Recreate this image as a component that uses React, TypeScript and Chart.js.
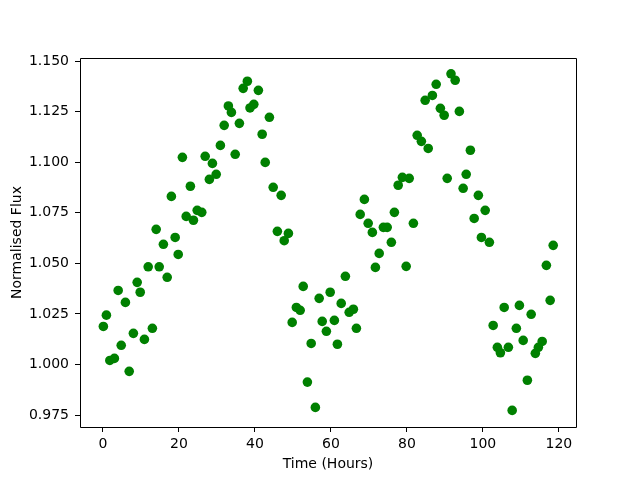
import React, { useEffect, useRef } from "react";
import { Chart, registerables } from "chart.js";

Chart.register(...registerables);

const hours = [
  0.1, 0.9, 1.8, 3.0, 4.0, 4.8, 5.9, 6.9, 8.0, 9.0,
  9.8, 10.9, 11.9, 13.0, 14.0, 14.8, 15.9, 16.9, 18.0, 19.0,
  19.8, 20.9, 21.9, 23.0, 23.8, 24.8, 26.0, 26.9, 28.0, 28.8,
  29.8, 30.9, 31.9, 33.0, 33.8, 34.8, 35.9, 36.9, 38.0, 38.7,
  39.7, 40.9, 41.9, 42.7, 43.8, 44.8, 45.9, 46.9, 47.7, 48.8,
  49.8, 50.9, 51.9, 52.7, 53.8, 54.8, 55.9, 56.9, 57.7, 58.8,
  59.8, 60.9, 61.7, 62.7, 63.8, 64.8, 65.9, 66.7, 67.7, 68.8,
  69.8, 70.9, 71.7, 72.7, 73.8, 74.8, 75.9, 76.7, 77.7, 78.8,
  79.8, 80.6, 81.7, 82.7, 83.8, 84.8, 85.6, 86.7, 87.7, 88.8,
  89.8, 90.6, 91.6, 92.7, 93.8, 94.8, 95.6, 96.7, 97.7, 98.8,
  99.6, 100.6, 101.7, 102.7, 103.8, 104.6, 105.6, 106.7, 107.7, 108.8,
  109.6, 110.6, 111.7, 112.7, 113.8, 114.6, 115.6, 116.7, 117.7, 118.5,
];

const flux = [
  1.0188, 1.0244, 1.002, 1.003, 1.0366, 1.0095, 1.0307, 0.9966, 1.0154, 1.0406,
  1.0357, 1.0124, 1.0483, 1.0179, 1.0668, 1.0483, 1.0594, 1.0431, 1.0831, 1.0628,
  1.0544, 1.1024, 1.0732, 1.0881, 1.0713, 1.0762, 1.0752, 1.1029, 1.0915, 1.0994,
  1.094, 1.1083, 1.1182, 1.1278, 1.1246, 1.1039, 1.1192, 1.1365, 1.14, 1.1268,
  1.1286, 1.1355, 1.1138, 1.0999, 1.1222, 1.0876, 1.0658, 1.0836, 1.0612, 1.0648,
  1.0208, 1.0282, 1.0268, 1.0386, 0.9913, 1.0104, 0.9788, 1.0327, 1.0213, 1.0164,
  1.0357, 1.0218, 1.01, 1.0302, 1.0436, 1.0258, 1.0273, 1.0179, 1.0742, 1.0816,
  1.0698, 1.0653, 1.048, 1.0549, 1.0678, 1.0678, 1.0604, 1.0752, 1.0886, 1.0925,
  1.0485, 1.092, 1.0698, 1.1133, 1.1103, 1.1306, 1.1068, 1.133, 1.1385, 1.1266,
  1.1232, 1.092, 1.1437, 1.1405, 1.1251, 1.0871, 1.094, 1.1059, 1.0722, 1.0836,
  1.0628, 1.0762, 1.0604, 1.0193, 1.0085, 1.0058, 1.0282, 1.0085, 0.9773, 1.0179,
  1.0292, 1.0119, 0.9922, 1.0248, 1.0055, 1.0085, 1.0114, 1.049, 1.0317, 1.0589,
];

const xTicks = [0, 20, 40, 60, 80, 100, 120];
const yTicks = [0.975, 1.0, 1.025, 1.05, 1.075, 1.1, 1.125, 1.15];

const FONT = "'DejaVu Sans', sans-serif";

const framePlugin = {
  id: "frame",
  afterDraw(chart: any) {
    const { ctx, chartArea } = chart;
    const { left, top, right, bottom } = chartArea;
    ctx.save();
    ctx.strokeStyle = "#000";
    ctx.lineWidth = 1;
    ctx.beginPath();
    ctx.moveTo(Math.round(left) + 0.5, Math.round(bottom) + 0.5);
    ctx.lineTo(Math.round(left) + 0.5, Math.round(top) + 0.5);
    ctx.lineTo(Math.round(right) + 0.5, Math.round(top) + 0.5);
    ctx.lineTo(Math.round(right) + 0.5, Math.round(bottom) + 0.5);
    ctx.lineTo(Math.round(left) + 0.5, Math.round(bottom) + 0.5);
    ctx.stroke();
    ctx.restore();
  },
};

export default function App() {
  const ref = useRef<HTMLCanvasElement | null>(null);

  useEffect(() => {
    if (!ref.current) return;
    const points = hours.map((h, i) => ({ x: h, y: flux[i] }));
    const chart = new Chart(ref.current, {
      type: "scatter",
      data: {
        datasets: [
          {
            data: points,
            backgroundColor: "#008000",
            borderColor: "#008000",
            borderWidth: 0,
            pointRadius: 4.8,
            pointHoverRadius: 4.8,
          },
        ],
      },
      options: {
        responsive: false,
        animation: false,
        events: [],
        layout: { padding: { left: 0, top: 58, right: 64, bottom: 0 } },
        plugins: {
          legend: { display: false },
          tooltip: { enabled: false },
        },
        scales: {
          x: {
            type: "linear",
            min: -6.05,
            max: 124.5,
            afterBuildTicks: (scale: any) => {
              scale.ticks = xTicks.map((v) => ({ value: v }));
            },
            afterFit: (scale: any) => {
              scale.height = 53;
            },
            grid: {
              drawOnChartArea: false,
              drawTicks: true,
              tickLength: 5,
              color: "#000",
            },
            border: { display: false },
            ticks: {
              color: "#000",
              padding: 4,
              maxRotation: 0,
              autoSkip: false,
              font: { family: FONT, size: 14 },
              callback: (v: any) => String(v),
            },
            title: {
              display: true,
              text: "Time (Hours)",
              color: "#000",
              font: { family: FONT, size: 14 },
              padding: { top: 0, bottom: 7 },
            },
          },
          y: {
            type: "linear",
            min: 0.9691,
            max: 1.1515,
            afterBuildTicks: (scale: any) => {
              scale.ticks = yTicks.map((v) => ({ value: v }));
            },
            afterFit: (scale: any) => {
              scale.width = 80;
            },
            grid: {
              drawOnChartArea: false,
              drawTicks: true,
              tickLength: 5,
              color: "#000",
            },
            border: { display: false },
            ticks: {
              color: "#000",
              padding: 6,
              autoSkip: false,
              font: { family: FONT, size: 14 },
              callback: (v: any) => Number(v).toFixed(3),
            },
            title: {
              display: true,
              text: "Normalised Flux",
              color: "#000",
              font: { family: FONT, size: 14 },
              padding: { top: 9, bottom: 0 },
            },
          },
        },
      },
      plugins: [framePlugin],
    } as any);
    return () => chart.destroy();
  }, []);

  return (
    <div style={{ position: "fixed", left: 0, top: 0, width: 640, height: 480, background: "#fff" }}>
      <canvas ref={ref} width={640} height={480} />
    </div>
  );
}
